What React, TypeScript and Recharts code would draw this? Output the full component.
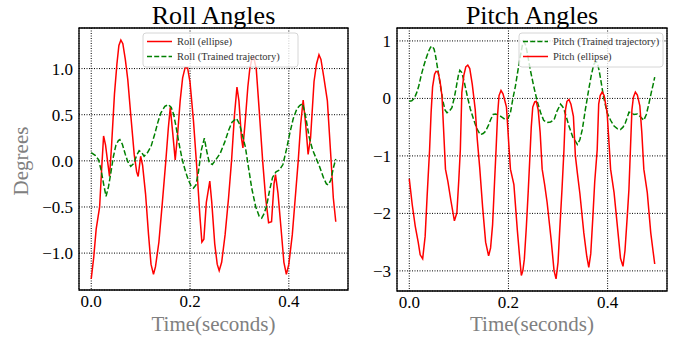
import React from "react";
import { LineChart, Line, XAxis, YAxis, CartesianGrid, ReferenceArea } from "recharts";

// ---------- data (time in seconds, angle in degrees) ----------
const rollEllipseTime = [0, 0.005, 0.01, 0.017, 0.021, 0.025, 0.029, 0.033, 0.037, 0.041, 0.047, 0.052, 0.056, 0.06, 0.064, 0.069, 0.074, 0.08, 0.087, 0.092, 0.095, 0.1, 0.104, 0.11, 0.116, 0.121, 0.126, 0.13, 0.137, 0.144, 0.151, 0.156, 0.16, 0.165, 0.17, 0.175, 0.18, 0.185, 0.19, 0.195, 0.2, 0.207, 0.214, 0.22, 0.224, 0.228, 0.233, 0.24, 0.244, 0.25, 0.255, 0.259, 0.264, 0.271, 0.278, 0.284, 0.29, 0.295, 0.299, 0.304, 0.307, 0.312, 0.317, 0.321, 0.325, 0.329, 0.334, 0.34, 0.347, 0.353, 0.359, 0.365, 0.37, 0.373, 0.378, 0.384, 0.39, 0.395, 0.4, 0.407, 0.413, 0.419, 0.424, 0.429, 0.434, 0.439, 0.444, 0.451, 0.456, 0.461, 0.465, 0.471, 0.478, 0.485, 0.49, 0.495];
const rollEllipseDeg = [-1.28, -1.05, -0.74, -0.5, -0.1, 0.27, 0.17, 0.0, -0.17, 0.15, 0.72, 1.05, 1.25, 1.31, 1.27, 1.1, 0.88, 0.5, 0.07, -0.12, -0.17, 0.05, -0.05, -0.36, -0.8, -1.12, -1.23, -1.15, -0.88, -0.45, 0.0, 0.35, 0.58, 0.3, 0.01, 0.3, 0.65, 0.9, 1.01, 1.01, 0.85, 0.43, -0.1, -0.6, -0.88, -0.85, -0.45, -0.22, -0.45, -0.9, -1.12, -1.19, -1.1, -0.8, -0.4, 0.0, 0.5, 0.8, 0.65, 0.25, 0.14, 0.45, 0.8, 1.0, 1.1, 1.12, 1.0, 0.55, 0.0, -0.4, -0.67, -0.66, -0.25, -0.15, -0.35, -0.72, -1.1, -1.23, -1.12, -0.8, -0.4, 0.0, 0.4, 0.66, 0.4, 0.07, 0.25, 0.86, 1.05, 1.15, 1.1, 0.9, 0.65, 0.05, -0.4, -0.66];

const rollTrainedTime = [0, 0.008, 0.015, 0.02, 0.025, 0.03, 0.035, 0.04, 0.045, 0.05, 0.055, 0.058, 0.063, 0.069, 0.074, 0.08, 0.086, 0.092, 0.097, 0.102, 0.107, 0.114, 0.121, 0.128, 0.135, 0.141, 0.149, 0.156, 0.162, 0.167, 0.172, 0.178, 0.184, 0.19, 0.196, 0.202, 0.207, 0.212, 0.217, 0.223, 0.229, 0.234, 0.239, 0.245, 0.252, 0.261, 0.27, 0.278, 0.285, 0.294, 0.3, 0.306, 0.312, 0.318, 0.325, 0.333, 0.34, 0.345, 0.35, 0.355, 0.361, 0.367, 0.374, 0.381, 0.388, 0.395, 0.402, 0.409, 0.416, 0.422, 0.428, 0.434, 0.441, 0.448, 0.455, 0.462, 0.47, 0.476, 0.48, 0.485, 0.49, 0.495];
const rollTrainedDeg = [0.09, 0.06, 0.01, -0.1, -0.25, -0.385, -0.28, -0.12, 0.05, 0.17, 0.22, 0.23, 0.18, 0.07, -0.01, -0.06, -0.03, 0.06, 0.11, 0.09, 0.05, 0.09, 0.155, 0.28, 0.42, 0.52, 0.59, 0.61, 0.58, 0.5, 0.36, 0.18, 0.02, -0.1, -0.2, -0.27, -0.295, -0.26, -0.12, 0.12, 0.245, 0.1, -0.02, -0.04, 0.01, 0.08, 0.2, 0.33, 0.42, 0.46, 0.4, 0.28, 0.15, -0.06, -0.3, -0.5, -0.6, -0.62, -0.57, -0.49, -0.32, -0.18, -0.12, -0.1, -0.04, 0.12, 0.3, 0.46, 0.56, 0.6, 0.62, 0.48, 0.26, 0.12, 0.03, -0.06, -0.18, -0.25, -0.26, -0.21, -0.08, 0.02];

const pitchEllipseTime = [0, 0.006, 0.012, 0.018, 0.022, 0.027, 0.032, 0.036, 0.041, 0.044, 0.047, 0.051, 0.054, 0.058, 0.062, 0.066, 0.069, 0.073, 0.078, 0.084, 0.091, 0.096, 0.1, 0.103, 0.106, 0.11, 0.114, 0.118, 0.122, 0.127, 0.133, 0.137, 0.142, 0.148, 0.154, 0.16, 0.164, 0.168, 0.172, 0.175, 0.178, 0.181, 0.185, 0.189, 0.193, 0.196, 0.2, 0.204, 0.211, 0.218, 0.223, 0.226, 0.229, 0.232, 0.236, 0.24, 0.243, 0.246, 0.249, 0.253, 0.256, 0.26, 0.264, 0.268, 0.273, 0.278, 0.286, 0.292, 0.296, 0.3, 0.304, 0.308, 0.312, 0.315, 0.318, 0.322, 0.326, 0.331, 0.335, 0.339, 0.344, 0.352, 0.358, 0.362, 0.366, 0.37, 0.374, 0.379, 0.382, 0.385, 0.389, 0.393, 0.399, 0.403, 0.406, 0.413, 0.421, 0.426, 0.431, 0.435, 0.44, 0.443, 0.446, 0.449, 0.452, 0.456, 0.46, 0.465, 0.469, 0.473, 0.48, 0.487, 0.492, 0.495];
const pitchEllipseDeg = [-1.4, -1.85, -2.22, -2.5, -2.72, -2.79, -2.4, -1.7, -0.89, -0.25, 0.2, 0.42, 0.47, 0.46, 0.3, 0.04, -0.5, -1.23, -1.45, -1.78, -2.13, -1.99, -1.4, -0.89, 0.1, 0.4, 0.55, 0.58, 0.52, 0.25, -0.19, -0.7, -1.2, -1.9, -2.5, -2.74, -2.6, -2.2, -1.45, -0.9, -0.3, 0.05, 0.14, 0.08, -0.05, -0.15, -0.7, -1.23, -1.5, -2.3, -2.8, -3.08, -3.0, -2.8, -2.25, -1.6, -1.06, -0.5, -0.15, -0.06, -0.05, -0.2, -0.6, -1.23, -1.5, -1.81, -2.45, -3.0, -3.14, -2.85, -2.2, -1.58, -0.89, -0.2, -0.05, -0.02, -0.1, -0.31, -1.0, -1.3, -1.65, -2.34, -2.75, -2.94, -2.7, -2.1, -1.45, -0.89, -0.1, 0.05, 0.11, 0.05, -0.25, -0.8, -1.23, -1.64, -2.34, -2.78, -2.92, -2.65, -2.0, -1.58, -0.89, -0.2, 0.02, 0.11, 0.06, -0.13, -0.6, -1.23, -1.64, -2.34, -2.68, -2.88];

const pitchTrainedTime = [0, 0.005, 0.01, 0.015, 0.019, 0.024, 0.029, 0.034, 0.039, 0.043, 0.046, 0.05, 0.053, 0.058, 0.063, 0.068, 0.072, 0.076, 0.081, 0.086, 0.091, 0.095, 0.099, 0.102, 0.106, 0.111, 0.117, 0.123, 0.13, 0.136, 0.143, 0.149, 0.154, 0.16, 0.164, 0.169, 0.174, 0.18, 0.186, 0.194, 0.199, 0.204, 0.209, 0.214, 0.219, 0.224, 0.228, 0.231, 0.235, 0.238, 0.244, 0.251, 0.258, 0.265, 0.271, 0.278, 0.285, 0.292, 0.298, 0.305, 0.309, 0.312, 0.317, 0.322, 0.33, 0.339, 0.344, 0.349, 0.355, 0.362, 0.367, 0.372, 0.376, 0.379, 0.383, 0.386, 0.392, 0.399, 0.406, 0.413, 0.42, 0.426, 0.431, 0.436, 0.44, 0.443, 0.448, 0.453, 0.46, 0.466, 0.473, 0.478, 0.483, 0.488, 0.492, 0.495];
const pitchTrainedDeg = [-0.05, -0.04, 0.0, 0.1, 0.21, 0.4, 0.56, 0.7, 0.82, 0.89, 0.91, 0.86, 0.74, 0.48, 0.21, -0.05, -0.2, -0.25, -0.22, -0.16, 0.02, 0.21, 0.4, 0.49, 0.45, 0.28, 0.04, -0.18, -0.37, -0.52, -0.63, -0.61, -0.57, -0.46, -0.37, -0.28, -0.27, -0.29, -0.32, -0.37, -0.35, -0.25, 0.0, 0.21, 0.48, 0.74, 0.92, 0.99, 0.92, 0.79, 0.5, 0.21, -0.05, -0.25, -0.38, -0.42, -0.41, -0.37, -0.22, -0.1, -0.14, -0.19, -0.33, -0.48, -0.68, -0.8, -0.72, -0.54, -0.2, 0.16, 0.4, 0.59, 0.64, 0.63, 0.48, 0.33, 0.02, -0.25, -0.38, -0.48, -0.53, -0.54, -0.5, -0.42, -0.32, -0.24, -0.25, -0.28, -0.27, -0.32, -0.38, -0.28, -0.1, 0.1, 0.25, 0.37];

const timeTicks = [0, 0.2, 0.4];
const rollTicks = [-1, -0.5, 0, 0.5, 1];
const pitchTicks = [-3, -2, -1, 0, 1];

const rollTitle = "Roll Angles";
const pitchTitle = "Pitch Angles";
const xLabel = "Time(seconds)";
const yLabel = "Degrees";
const rollLegend = ["Roll (ellipse)", "Roll (Trained trajectory)"];
const pitchLegend = ["Pitch (Trained trajectory)", "Pitch (ellipse)"];

// ---------- helpers ----------
const pts = (ts: number[], vs: number[]) => ts.map((t, i) => ({ t, v: vs[i] }));
const minus = (s: string) => s.replace("-", "\u2212");
const FONT = "Liberation Serif";
const RED = "#ff0000";
const GREEN = "#008000";
const DASH = "5.5 2.4";
const X_DOMAIN: [number, number] = [-0.02475, 0.51975];

const tickStyle = { fontFamily: FONT, fontSize: 17, fill: "#000" };

function Panel(props: {
  left: number; width: number; margin: any; yDomain: [number, number]; yTicks: number[];
  yFmt: (v: number) => string; series: { data: any[]; color: string; dashed: boolean }[];
}) {
  const { left, width, margin, yDomain, yTicks, yFmt, series } = props;
  return (
    <div style={{ position: "absolute", left, top: 0 }}>
      <LineChart width={width} height={339} margin={margin}>
        <CartesianGrid stroke="#000" strokeWidth={1} strokeDasharray="1 1.5" />
        <XAxis
          dataKey="t" type="number" domain={X_DOMAIN} ticks={timeTicks} allowDataOverflow
          tickFormatter={(v: number) => minus(v.toFixed(1))} tickLine={false} axisLine={false}
          tickSize={0} tickMargin={5} height={30} tick={tickStyle} interval={0}
        />
        <YAxis
          type="number" domain={yDomain} ticks={yTicks} allowDataOverflow
          tickFormatter={(v: number) => minus(yFmt(v))} tickLine={false} axisLine={false}
          tickSize={0} tickMargin={6} width={50} tick={tickStyle} interval={0}
        />
        <ReferenceArea x1={X_DOMAIN[0]} x2={X_DOMAIN[1]} y1={yDomain[0]} y2={yDomain[1]}
          fill="none" fillOpacity={0} stroke="#000" strokeWidth={1.3} ifOverflow="visible" />
        {series.map((s, i) => (
          <Line key={i} data={s.data} dataKey="v" type="linear" dot={false} activeDot={false}
            stroke={s.color} strokeWidth={1.5} strokeDasharray={s.dashed ? DASH : undefined}
            isAnimationActive={false} />
        ))}
      </LineChart>
    </div>
  );
}

function LegendBox(props: { x: number; y: number; w: number; items: { label: string; color: string; dashed: boolean }[] }) {
  const { x, y, w, items } = props;
  return (
    <g>
      <rect x={x} y={y} width={w} height={34} rx={3} fill="#fff" fillOpacity={0.8} stroke="#cccccc" strokeWidth={0.8} />
      {items.map((it, i) => (
        <g key={i}>
          <line x1={x + 4} x2={x + 29} y1={y + 8.5 + i * 15} y2={y + 8.5 + i * 15} stroke={it.color}
            strokeWidth={1.5} strokeDasharray={it.dashed ? "5 2.2" : undefined} />
          <text x={x + 34} y={y + 12 + i * 15} fontFamily={FONT} fontSize={10.5} fill="#333">{it.label}</text>
        </g>
      ))}
    </g>
  );
}

export default function App() {
  return (
    <div style={{ position: "absolute", left: 0, top: 0, width: 681, height: 339, background: "#fff", overflow: "hidden" }}>
      <Panel
        left={0} width={360} margin={{ top: 28, right: 12, left: 29, bottom: 19 }}
        yDomain={[-1.4, 1.44]} yTicks={rollTicks} yFmt={(v) => v.toFixed(1)}
        series={[
          { data: pts(rollEllipseTime, rollEllipseDeg), color: RED, dashed: false },
          { data: pts(rollTrainedTime, rollTrainedDeg), color: GREEN, dashed: true },
        ]}
      />
      <Panel
        left={340} width={341} margin={{ top: 28, right: 14, left: 7, bottom: 18 }}
        yDomain={[-3.35, 1.225]} yTicks={pitchTicks} yFmt={(v) => v.toFixed(0)}
        series={[
          { data: pts(pitchTrainedTime, pitchTrainedDeg), color: GREEN, dashed: true },
          { data: pts(pitchEllipseTime, pitchEllipseDeg), color: RED, dashed: false },
        ]}
      />
      <svg width={681} height={339} style={{ position: "absolute", left: 0, top: 0, pointerEvents: "none" }}>
        <text x={213.5} y={24} textAnchor="middle" fontFamily={FONT} fontSize={26} fill="#000">{rollTitle}</text>
        <text x={532} y={24} textAnchor="middle" fontFamily={FONT} fontSize={26} fill="#000">{pitchTitle}</text>
        <text x={213.5} y={331} textAnchor="middle" fontFamily={FONT} fontSize={21} fill="#808080">{xLabel}</text>
        <text x={532} y={331} textAnchor="middle" fontFamily={FONT} fontSize={21} fill="#808080">{xLabel}</text>
        <text x={28} y={161} textAnchor="middle" fontFamily={FONT} fontSize={21} fill="#808080" transform="rotate(-90 28 161)">{yLabel}</text>
        <LegendBox x={143} y={33} w={155} items={[
          { label: rollLegend[0], color: RED, dashed: false },
          { label: rollLegend[1], color: GREEN, dashed: true },
        ]} />
        <LegendBox x={519} y={33} w={144} items={[
          { label: pitchLegend[0], color: GREEN, dashed: true },
          { label: pitchLegend[1], color: RED, dashed: false },
        ]} />
      </svg>
    </div>
  );
}
